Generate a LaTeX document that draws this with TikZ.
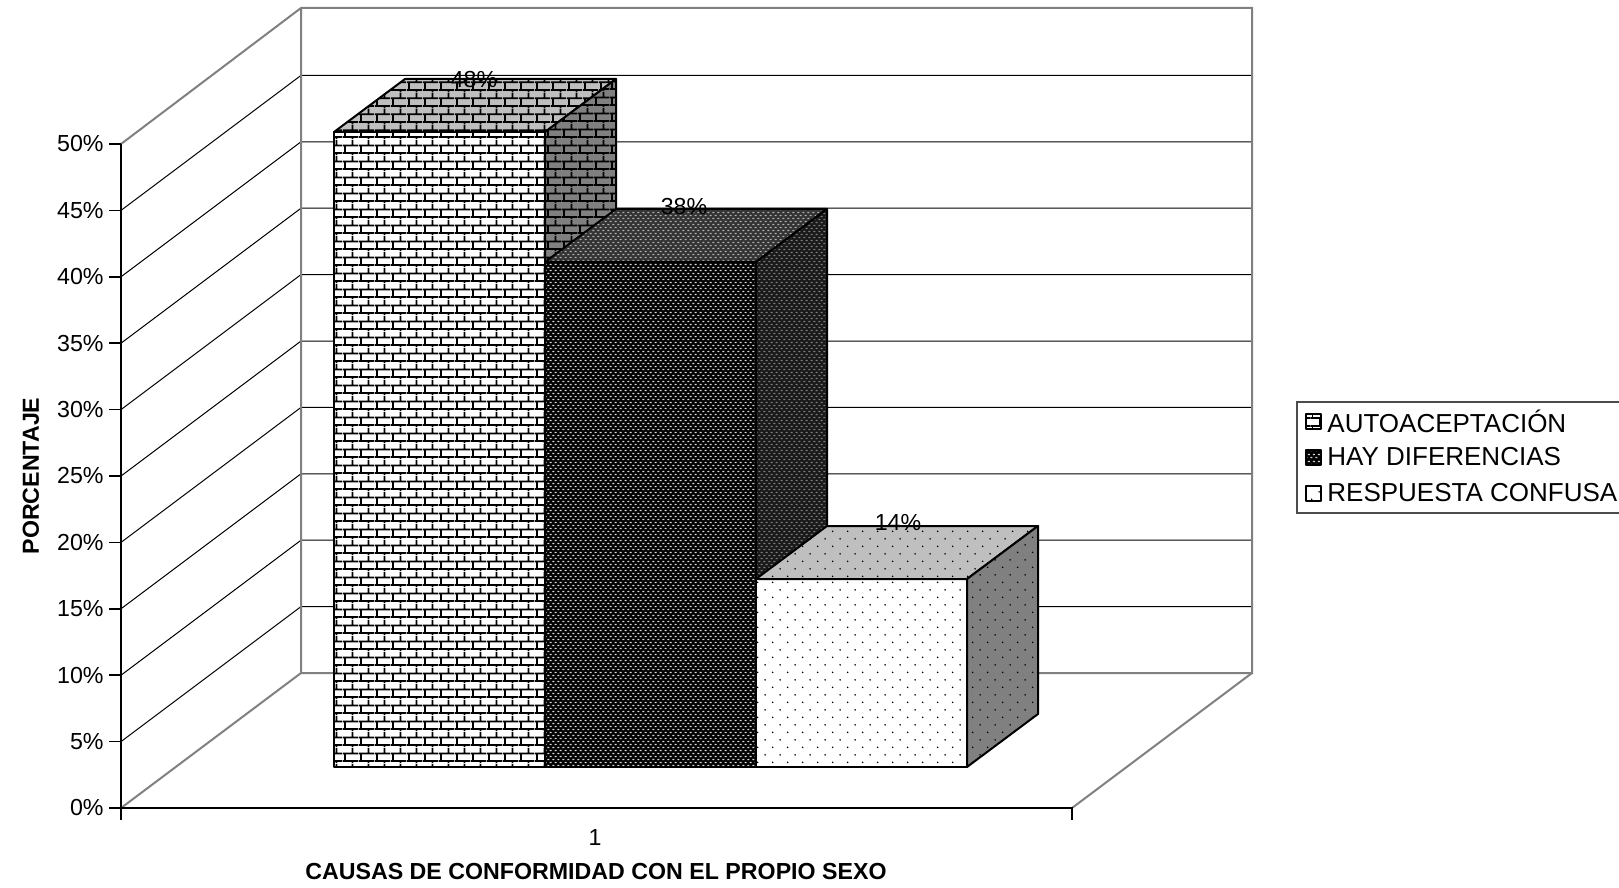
\documentclass[tikz,border=0pt]{standalone}
\usepackage{fontspec}
\setmainfont{Liberation Sans}
\usetikzlibrary{patterns}

% fill patterns of the three bars
\pgfdeclarepatternformonly{smallbricks}{\pgfqpoint{0pt}{0pt}}{\pgfqpoint{7.8pt}{7.8pt}}{\pgfqpoint{7.8pt}{7.8pt}}{
    \pgfsetlinewidth{0.9pt}
    \pgfpathmoveto{\pgfqpoint{0pt}{1pt}}\pgfpathlineto{\pgfqpoint{7.8pt}{1pt}}
    \pgfpathmoveto{\pgfqpoint{0pt}{4.9pt}}\pgfpathlineto{\pgfqpoint{7.8pt}{4.9pt}}
    \pgfpathmoveto{\pgfqpoint{1pt}{1pt}}\pgfpathlineto{\pgfqpoint{1pt}{4.9pt}}
    \pgfpathmoveto{\pgfqpoint{4.9pt}{4.9pt}}\pgfpathlineto{\pgfqpoint{4.9pt}{7.8pt}}
    \pgfpathmoveto{\pgfqpoint{4.9pt}{0pt}}\pgfpathlineto{\pgfqpoint{4.9pt}{1pt}}
    \pgfusepath{stroke}
}
\pgfdeclarepatternformonly{finemesh}{\pgfqpoint{0pt}{0pt}}{\pgfqpoint{2.4pt}{3.2pt}}{\pgfqpoint{2.4pt}{3.2pt}}{
    \pgfsetlinewidth{0.7pt}
    \pgfpathmoveto{\pgfqpoint{0.2pt}{0.8pt}}\pgfpathlineto{\pgfqpoint{1.2pt}{0.8pt}}
    \pgfpathmoveto{\pgfqpoint{1.4pt}{2.4pt}}\pgfpathlineto{\pgfqpoint{2.4pt}{2.4pt}}
    \pgfusepath{stroke}
}
\pgfdeclarepatternformonly{sparsedots}{\pgfqpoint{0pt}{0pt}}{\pgfqpoint{7.7pt}{7.7pt}}{\pgfqpoint{7.7pt}{7.7pt}}{
    \pgfpathcircle{\pgfqpoint{1.9pt}{1.9pt}}{0.45pt}
    \pgfpathcircle{\pgfqpoint{5.75pt}{5.75pt}}{0.45pt}
    \pgfusepath{fill}
}

\tikzset{
    frame/.style={
        draw=black!50,
        line width=1pt,
    },
    gridline/.style={
        draw=black,
        line width=0.5pt,
    },
    axisline/.style={
        draw=black,
        line width=0.8pt,
    },
    face/.style={
        draw=black,
        line width=1pt,
        line join=round,
    },
    brickfront/.style={face, preaction={fill=white}, pattern=smallbricks},
    bricktop/.style={face, preaction={fill=black!25}, pattern=smallbricks},
    brickside/.style={face, preaction={fill=black!50}, pattern=smallbricks},
    meshfront/.style={face, preaction={fill=black}, pattern=finemesh, pattern color=black!15},
    meshtop/.style={face, preaction={fill=black!80}, pattern=finemesh, pattern color=black!30},
    meshside/.style={face, preaction={fill=black!90}, pattern=finemesh, pattern color=black!50},
    dotfront/.style={face, preaction={fill=white}, pattern=sparsedots},
    dottop/.style={face, preaction={fill=black!25}, pattern=sparsedots},
    dotside/.style={face, preaction={fill=black!50}, pattern=sparsedots},
    legendkey/.style={line width=0.6pt, minimum size=7.5pt, inner sep=0pt},
    legendtext/.style={anchor=west, inner sep=0pt},
    ticklabel/.style={anchor=east, inner sep=0pt},
}

% one 3d bar: left, right, top, pattern kind
\newcommand{\drawbar}[4]{
    \path[#4front] (#1,767) rectangle (#2,#3);
    \path[#4top] (#1,#3) -- ++(71,-53) -- ({#2+71},{#3-53}) -- (#2,#3) -- cycle;
    \path[#4side] (#2,#3) -- ({#2+71},{#3-53}) -- ({#2+71},714) -- (#2,767) -- cycle;
}

\begin{document}
\begin{tikzpicture}[x=0.5pt, y=-0.5pt, font=\fontsize{11.6}{13.9}\selectfont]
    \useasboundingbox (0,0) rectangle (1619,888);

    \coordinate (O) at (121,808);
    \coordinate (YT) at (121,144);
    \coordinate (XR) at (1072,808);
    \coordinate (B0) at (301,673);
    \coordinate (BT) at (301,8);
    \coordinate (BR) at (1252,8);
    \coordinate (BRB) at (1252,673);

    % walls and floor
    \foreach \k in {1,...,9} {
        \draw[gridline] (121,{808-66.4*\k}) -- (301,{673-66.4*\k}) -- (1252,{673-66.4*\k});
    }
    \draw[frame] (YT) -- (BT) -- (BR) -- (BRB) -- (B0) -- (BT);
    \draw[frame] (O) -- (B0);
    \draw[frame] (XR) -- (BRB);

    % axes
    \draw[axisline] (YT) -- (121,820);
    \draw[axisline] (O) -- (XR) -- (1072,820);
    \foreach \k in {0,...,10} {
        \pgfmathtruncatemacro{\pc}{5*\k}
        \draw[axisline] (109,{808-66.4*\k}) -- (121,{808-66.4*\k});
        \node[ticklabel] (yt\k) at (104,{808-66.4*\k}) {\pc\%};
    }
    \node (cat1) at (595,838) {1};
    \node[font=\fontsize{11.6}{13.9}\selectfont\bfseries] (xtitle) at (596,872) {CAUSAS DE CONFORMIDAD CON EL PROPIO SEXO};
    \node[font=\fontsize{11.6}{13.9}\selectfont\bfseries, rotate=90] (ytitle) at (31,476) {PORCENTAJE};

    % bars
    \drawbar{334}{545}{132}{brick}
    \drawbar{545}{756}{262}{mesh}
    \drawbar{756}{967}{579}{dot}
    \node (p48) at (474,80) {48\%};
    \node (p38) at (684,207) {38\%};
    \node (p14) at (898,523) {14\%};

    % legend
    \draw[line width=0.8pt, draw=black!70] (1297,402) rectangle (1640,513);
    \begin{scope}[font=\fontsize{13}{15.6}\selectfont]
        \node[legendkey, brickfront] (k1) at (1313,421) {};
        \node[legendtext] (l1) at (1327,421) {AUTOACEPTACIÓN};
        \node[legendkey, meshfront] (k2) at (1313,457) {};
        \node[legendtext] (l2) at (1327,457) {HAY DIFERENCIAS};
        \node[legendkey, dotfront] (k3) at (1313,493) {};
        \node[legendtext] (l3) at (1327,493) {RESPUESTA CONFUSA};
    \end{scope}
\end{tikzpicture}
\end{document}
